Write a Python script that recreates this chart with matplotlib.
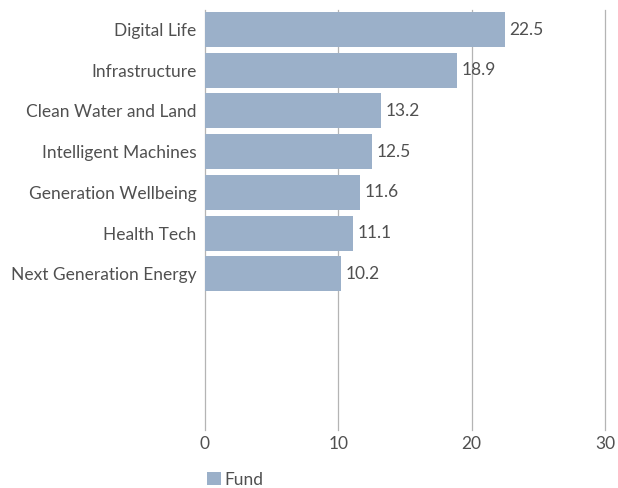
import matplotlib
matplotlib.use("Agg")
import matplotlib.pyplot as plt
from matplotlib.patches import Patch

categories = ["Digital Life", "Infrastructure", "Clean Water and Land",
              "Intelligent Machines", "Generation Wellbeing", "Health Tech",
              "Next Generation Energy"]
fund = [22.5, 18.9, 13.2, 12.5, 11.6, 11.1, 10.2]
xticks = [0, 10, 20, 30]

barColor = "#9bb0c9"
textColor = "#505050"
gridColor = "#b4b4b4"

plt.rcParams['font.family'] = ['Lato', 'DejaVu Sans']

W, H = 618, 488
fig = plt.figure(figsize=(W / 100, H / 100), dpi=100)
ax = fig.add_axes([205 / W, 1 - 430 / H, 400 / W, 420 / H])

pos = list(range(len(categories)))
ax.barh(pos, fund, height=0.86, color=barColor, zorder=2)
for p, v in zip(pos, fund):
    ax.text(v + 0.35, p, f"{v:.1f}", va="center", ha="left",
            fontsize=12.5, color=textColor)

ax.set_xlim(0, 30)
ax.set_ylim(9.84, -0.48)
ax.set_yticks(pos)
ax.set_yticklabels(categories, fontsize=12.5, color=textColor)
ax.set_xticks(xticks)
ax.set_xticklabels([str(t) for t in xticks], fontsize=12.5, color=textColor)
ax.tick_params(axis="both", length=0)
ax.tick_params(axis="y", pad=6)
ax.tick_params(axis="x", pad=4)
ax.grid(axis="x", color=gridColor, linewidth=0.9, zorder=0)
for gl in ax.get_xgridlines():
    gl.set_clip_on(False)
for s in ax.spines.values():
    s.set_visible(False)

handle = Patch(facecolor=barColor, edgecolor="none")
fig.legend([handle], ["Fund"], loc="lower left", bbox_to_anchor=(191 / W, -0.031),
           frameon=False, fontsize=12.5, handlelength=0.8, handleheight=0.8,
           handletextpad=0.25, labelcolor=textColor)

fig.savefig("out.png", dpi=100)
